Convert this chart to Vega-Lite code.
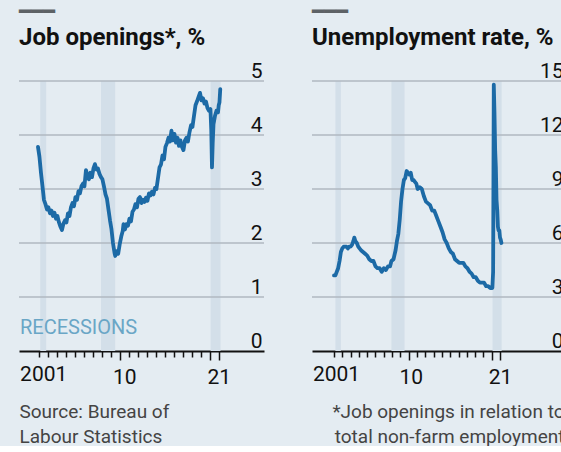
{
  "$schema": "https://vega.github.io/schema/vega-lite/v6.json",
  "background": "#e4ecf2",
  "padding": {"left": 16, "top": 2, "right": 4, "bottom": 0},
  "spacing": 42,
  "datasets": {
    "recessions": [
      {"year": 2001.17, "end": 2001.83},
      {"year": 2007.92, "end": 2009.5},
      {"year": 2020.1, "end": 2021.2}
    ],
    "gridJobs": [
      {"year": 1998.81, "value": 1, "level": 1}, {"year": 2026.03, "value": 1, "level": 1},
      {"year": 1998.81, "value": 2, "level": 2}, {"year": 2026.03, "value": 2, "level": 2},
      {"year": 1998.81, "value": 3, "level": 3}, {"year": 2026.03, "value": 3, "level": 3},
      {"year": 1998.81, "value": 4, "level": 4}, {"year": 2026.03, "value": 4, "level": 4},
      {"year": 1998.81, "value": 5, "level": 5}, {"year": 2026.03, "value": 5, "level": 5}
    ],
    "gridUnemp": [
      {"year": 1998.35, "value": 3, "level": 3}, {"year": 2028.71, "value": 3, "level": 3},
      {"year": 1998.35, "value": 6, "level": 6}, {"year": 2028.71, "value": 6, "level": 6},
      {"year": 1998.35, "value": 9, "level": 9}, {"year": 2028.71, "value": 9, "level": 9},
      {"year": 1998.35, "value": 12, "level": 12}, {"year": 2028.71, "value": 12, "level": 12},
      {"year": 1998.35, "value": 15, "level": 15}, {"year": 2028.71, "value": 15, "level": 15}
    ],
    "notes": [{"year": 1998.92, "value": 0.31, "label": "RECESSIONS"}],
    "jobs": [
      {"year": 2000.92, "value": 3.78}, {"year": 2001.08, "value": 3.6}, {"year": 2001.25, "value": 3.3}, {"year": 2001.42, "value": 3.05},
      {"year": 2001.58, "value": 2.8}, {"year": 2001.75, "value": 2.72}, {"year": 2001.92, "value": 2.62}, {"year": 2002.08, "value": 2.66},
      {"year": 2002.25, "value": 2.55}, {"year": 2002.42, "value": 2.6}, {"year": 2002.58, "value": 2.5}, {"year": 2002.75, "value": 2.56},
      {"year": 2002.92, "value": 2.45}, {"year": 2003.08, "value": 2.5}, {"year": 2003.25, "value": 2.38}, {"year": 2003.42, "value": 2.3},
      {"year": 2003.58, "value": 2.24}, {"year": 2003.75, "value": 2.36}, {"year": 2003.92, "value": 2.42}, {"year": 2004.08, "value": 2.38},
      {"year": 2004.25, "value": 2.55}, {"year": 2004.42, "value": 2.5}, {"year": 2004.58, "value": 2.66}, {"year": 2004.75, "value": 2.74},
      {"year": 2004.92, "value": 2.68}, {"year": 2005.08, "value": 2.85}, {"year": 2005.25, "value": 2.8}, {"year": 2005.42, "value": 2.96},
      {"year": 2005.58, "value": 2.92}, {"year": 2005.75, "value": 3.05}, {"year": 2005.92, "value": 3.1}, {"year": 2006.08, "value": 3.05},
      {"year": 2006.25, "value": 3.35}, {"year": 2006.42, "value": 3.25}, {"year": 2006.58, "value": 3.18}, {"year": 2006.75, "value": 3.3},
      {"year": 2006.92, "value": 3.22}, {"year": 2007.08, "value": 3.38}, {"year": 2007.25, "value": 3.46}, {"year": 2007.42, "value": 3.36},
      {"year": 2007.58, "value": 3.38}, {"year": 2007.75, "value": 3.28}, {"year": 2007.92, "value": 3.22}, {"year": 2008.08, "value": 3.18},
      {"year": 2008.25, "value": 3.05}, {"year": 2008.42, "value": 2.9}, {"year": 2008.58, "value": 2.82}, {"year": 2008.75, "value": 2.62},
      {"year": 2008.92, "value": 2.42}, {"year": 2009.08, "value": 2.26}, {"year": 2009.25, "value": 2.0}, {"year": 2009.42, "value": 1.82},
      {"year": 2009.5, "value": 1.76}, {"year": 2009.67, "value": 1.85}, {"year": 2009.83, "value": 1.8}, {"year": 2010.0, "value": 1.98},
      {"year": 2010.17, "value": 2.12}, {"year": 2010.33, "value": 2.22}, {"year": 2010.42, "value": 2.35}, {"year": 2010.58, "value": 2.25},
      {"year": 2010.75, "value": 2.35}, {"year": 2010.92, "value": 2.32}, {"year": 2011.08, "value": 2.45}, {"year": 2011.25, "value": 2.4},
      {"year": 2011.42, "value": 2.58}, {"year": 2011.58, "value": 2.62}, {"year": 2011.75, "value": 2.72}, {"year": 2011.92, "value": 2.66},
      {"year": 2012.08, "value": 2.82}, {"year": 2012.25, "value": 2.85}, {"year": 2012.42, "value": 2.74}, {"year": 2012.58, "value": 2.8},
      {"year": 2012.75, "value": 2.76}, {"year": 2012.92, "value": 2.84}, {"year": 2013.08, "value": 2.78}, {"year": 2013.25, "value": 2.92},
      {"year": 2013.42, "value": 2.88}, {"year": 2013.58, "value": 2.95}, {"year": 2013.75, "value": 2.9}, {"year": 2013.92, "value": 3.02},
      {"year": 2014.08, "value": 3.0}, {"year": 2014.25, "value": 3.2}, {"year": 2014.42, "value": 3.4}, {"year": 2014.58, "value": 3.45},
      {"year": 2014.75, "value": 3.62}, {"year": 2014.92, "value": 3.55}, {"year": 2015.08, "value": 3.78}, {"year": 2015.25, "value": 3.85},
      {"year": 2015.42, "value": 3.95}, {"year": 2015.58, "value": 3.88}, {"year": 2015.75, "value": 4.08}, {"year": 2015.92, "value": 3.9},
      {"year": 2016.08, "value": 4.02}, {"year": 2016.25, "value": 3.86}, {"year": 2016.42, "value": 3.95}, {"year": 2016.58, "value": 3.8},
      {"year": 2016.75, "value": 3.9}, {"year": 2016.92, "value": 3.78}, {"year": 2017.08, "value": 3.72}, {"year": 2017.25, "value": 3.9},
      {"year": 2017.42, "value": 3.95}, {"year": 2017.58, "value": 3.88}, {"year": 2017.75, "value": 4.05}, {"year": 2017.92, "value": 4.18},
      {"year": 2018.08, "value": 4.15}, {"year": 2018.25, "value": 4.35}, {"year": 2018.42, "value": 4.55}, {"year": 2018.58, "value": 4.62},
      {"year": 2018.75, "value": 4.7}, {"year": 2018.92, "value": 4.78}, {"year": 2019.08, "value": 4.64}, {"year": 2019.25, "value": 4.68},
      {"year": 2019.42, "value": 4.58}, {"year": 2019.58, "value": 4.62}, {"year": 2019.75, "value": 4.5}, {"year": 2019.92, "value": 4.45},
      {"year": 2020.08, "value": 4.48}, {"year": 2020.17, "value": 4.1}, {"year": 2020.25, "value": 3.4}, {"year": 2020.33, "value": 3.85},
      {"year": 2020.42, "value": 4.2}, {"year": 2020.58, "value": 4.35}, {"year": 2020.75, "value": 4.45}, {"year": 2020.92, "value": 4.42},
      {"year": 2021.0, "value": 4.55}, {"year": 2021.08, "value": 4.6}, {"year": 2021.17, "value": 4.85}
    ],
    "unemp": [
      {"year": 2001.0, "value": 4.2}, {"year": 2001.17, "value": 4.2}, {"year": 2001.33, "value": 4.4}, {"year": 2001.5, "value": 4.6},
      {"year": 2001.67, "value": 5.0}, {"year": 2001.83, "value": 5.5}, {"year": 2002.0, "value": 5.7}, {"year": 2002.17, "value": 5.8},
      {"year": 2002.33, "value": 5.8}, {"year": 2002.5, "value": 5.8}, {"year": 2002.67, "value": 5.7}, {"year": 2002.83, "value": 5.8},
      {"year": 2003.0, "value": 5.8}, {"year": 2003.17, "value": 5.9}, {"year": 2003.33, "value": 6.1}, {"year": 2003.45, "value": 6.3},
      {"year": 2003.58, "value": 6.1}, {"year": 2003.75, "value": 6.0}, {"year": 2003.92, "value": 5.8}, {"year": 2004.08, "value": 5.7},
      {"year": 2004.25, "value": 5.6}, {"year": 2004.5, "value": 5.5}, {"year": 2004.75, "value": 5.4}, {"year": 2005.0, "value": 5.3},
      {"year": 2005.25, "value": 5.1}, {"year": 2005.5, "value": 5.0}, {"year": 2005.75, "value": 5.0}, {"year": 2006.0, "value": 4.7},
      {"year": 2006.25, "value": 4.6}, {"year": 2006.5, "value": 4.6}, {"year": 2006.75, "value": 4.4}, {"year": 2007.0, "value": 4.6},
      {"year": 2007.25, "value": 4.5}, {"year": 2007.5, "value": 4.7}, {"year": 2007.75, "value": 4.7}, {"year": 2007.92, "value": 5.0},
      {"year": 2008.17, "value": 5.1}, {"year": 2008.42, "value": 5.6}, {"year": 2008.58, "value": 6.1}, {"year": 2008.75, "value": 6.5},
      {"year": 2008.92, "value": 7.3}, {"year": 2009.08, "value": 8.3}, {"year": 2009.25, "value": 9.0}, {"year": 2009.42, "value": 9.5},
      {"year": 2009.58, "value": 9.6}, {"year": 2009.75, "value": 10.0}, {"year": 2009.92, "value": 9.9}, {"year": 2010.08, "value": 9.8},
      {"year": 2010.25, "value": 9.9}, {"year": 2010.42, "value": 9.5}, {"year": 2010.58, "value": 9.5}, {"year": 2010.75, "value": 9.4},
      {"year": 2010.92, "value": 9.3}, {"year": 2011.08, "value": 9.0}, {"year": 2011.33, "value": 9.1}, {"year": 2011.58, "value": 9.0},
      {"year": 2011.83, "value": 8.6}, {"year": 2012.08, "value": 8.3}, {"year": 2012.33, "value": 8.2}, {"year": 2012.58, "value": 8.1},
      {"year": 2012.83, "value": 7.8}, {"year": 2013.08, "value": 7.8}, {"year": 2013.33, "value": 7.5}, {"year": 2013.58, "value": 7.2},
      {"year": 2013.83, "value": 6.9}, {"year": 2014.08, "value": 6.6}, {"year": 2014.33, "value": 6.2}, {"year": 2014.58, "value": 6.0},
      {"year": 2014.83, "value": 5.7}, {"year": 2015.08, "value": 5.5}, {"year": 2015.33, "value": 5.4}, {"year": 2015.58, "value": 5.1},
      {"year": 2015.83, "value": 5.0}, {"year": 2016.08, "value": 4.9}, {"year": 2016.33, "value": 4.9}, {"year": 2016.58, "value": 4.9},
      {"year": 2016.83, "value": 4.7}, {"year": 2017.08, "value": 4.6}, {"year": 2017.33, "value": 4.4}, {"year": 2017.58, "value": 4.3},
      {"year": 2017.83, "value": 4.1}, {"year": 2018.08, "value": 4.1}, {"year": 2018.33, "value": 3.9}, {"year": 2018.58, "value": 3.8},
      {"year": 2018.83, "value": 3.8}, {"year": 2019.08, "value": 3.8}, {"year": 2019.33, "value": 3.6}, {"year": 2019.58, "value": 3.6},
      {"year": 2019.83, "value": 3.5}, {"year": 2020.0, "value": 3.5}, {"year": 2020.08, "value": 3.5}, {"year": 2020.17, "value": 4.4},
      {"year": 2020.25, "value": 14.8}, {"year": 2020.33, "value": 13.3}, {"year": 2020.42, "value": 11.1}, {"year": 2020.5, "value": 10.2},
      {"year": 2020.58, "value": 8.4}, {"year": 2020.67, "value": 7.8}, {"year": 2020.75, "value": 6.9}, {"year": 2020.83, "value": 6.7},
      {"year": 2020.92, "value": 6.7}, {"year": 2021.0, "value": 6.3}, {"year": 2021.08, "value": 6.2}, {"year": 2021.17, "value": 6.0}
    ]
  },
  "hconcat": [
    {
      "width": 245,
      "height": 270,
      "title": {
        "text": "━━━",
        "subtitle": "Job openings*, %",
        "anchor": "start",
        "frame": "group",
        "font": "DejaVu Sans",
        "fontSize": 20,
        "fontWeight": "normal",
        "color": "#5d6266",
        "subtitleFont": "Roboto",
        "subtitleFontSize": 24,
        "subtitleFontWeight": "bold",
        "subtitleColor": "#111111",
        "subtitlePadding": 4,
        "offset": 10
      },
      "encoding": {
        "x": {
          "field": "year",
          "type": "quantitative",
          "scale": {"domain": [1998.81, 2026.03], "nice": false, "zero": false},
          "axis": {
            "values": [2001, 2002, 2003, 2004, 2005, 2006, 2007, 2008, 2009, 2010, 2011, 2012, 2013, 2014, 2015, 2016, 2017, 2018, 2019, 2020, 2021],
            "labelExpr": "datum.value == 2001 ? '2001' : datum.value == 2010 ? '10' : datum.value == 2021 ? '21' : ''",
            "labelFlush": false,
            "labelOverlap": false,
            "labelFont": "Roboto",
            "labelFontSize": 21,
            "labelColor": "#111111",
            "labelPadding": 6,
            "labelOffset": {"condition": {"test": "datum.value == 2021", "value": 0}, "value": 4.5},
            "grid": false,
            "domainColor": "#111111",
            "domainWidth": 2,
            "tickColor": "#111111",
            "tickWidth": 1.5,
            "tickSize": {"condition": {"test": "datum.value == 2010 || datum.value >= 2020", "value": 9}, "value": 6},
            "title": ["Source: Bureau of", "Labour Statistics"],
            "titleFont": "Roboto",
            "titleFontSize": 19,
            "titleFontWeight": "normal",
            "titleColor": "#444444",
            "titleAnchor": "start",
            "titleAlign": "left",
            "titleBaseline": "top",
            "titleLineHeight": 25,
            "titlePadding": 15
          }
        },
        "y": {
          "field": "value",
          "type": "quantitative",
          "scale": {"domain": [0, 5], "nice": false},
          "axis": {
            "orient": "right",
            "values": [0, 1, 2, 3, 4, 5],
            "grid": false,
            "domain": false,
            "ticks": false,
            "labelAlign": "right",
            "labelBaseline": "alphabetic",
            "labelPadding": -2,
            "labelOffset": -4,
            "labelFont": "Roboto",
            "labelFontSize": 21,
            "labelColor": "#111111",
            "title": null
          }
        }
      },
      "layer": [
        {
          "data": {"name": "recessions"},
          "mark": {"type": "rect", "color": "#d3dfe9"},
          "encoding": {"x2": {"field": "end"}, "y": null}
        },
        {
          "data": {"name": "gridJobs"},
          "mark": {"type": "line", "color": "#b0b9c1", "strokeWidth": 1.4},
          "encoding": {"detail": {"field": "level", "type": "nominal"}}
        },
        {
          "data": {"name": "notes"},
          "mark": {"type": "text", "align": "left", "baseline": "alphabetic", "font": "Roboto", "fontSize": 20, "color": "#6aa6c6"},
          "encoding": {"text": {"field": "label"}}
        },
        {
          "data": {"name": "jobs"},
          "mark": {"type": "line", "color": "#1c6aa6", "strokeWidth": 3.8, "strokeJoin": "round", "strokeCap": "round"}
        }
      ]
    },
    {
      "width": 252,
      "height": 270,
      "title": {
        "text": "━━━",
        "subtitle": "Unemployment rate, %",
        "anchor": "start",
        "frame": "group",
        "font": "DejaVu Sans",
        "fontSize": 20,
        "fontWeight": "normal",
        "color": "#5d6266",
        "subtitleFont": "Roboto",
        "subtitleFontSize": 24,
        "subtitleFontWeight": "bold",
        "subtitleColor": "#111111",
        "subtitlePadding": 4,
        "offset": 10
      },
      "encoding": {
        "x": {
          "field": "year",
          "type": "quantitative",
          "scale": {"domain": [1998.35, 2028.71], "nice": false, "zero": false},
          "axis": {
            "values": [2001, 2002, 2003, 2004, 2005, 2006, 2007, 2008, 2009, 2010, 2011, 2012, 2013, 2014, 2015, 2016, 2017, 2018, 2019, 2020, 2021],
            "labelExpr": "datum.value == 2001 ? '2001' : datum.value == 2010 ? '10' : datum.value == 2021 ? '21' : ''",
            "labelFlush": false,
            "labelOverlap": false,
            "labelFont": "Roboto",
            "labelFontSize": 21,
            "labelColor": "#111111",
            "labelPadding": 6,
            "labelOffset": {"condition": {"test": "datum.value == 2021", "value": 0}, "value": 2},
            "grid": false,
            "domainColor": "#111111",
            "domainWidth": 2,
            "tickColor": "#111111",
            "tickWidth": 1.5,
            "tickSize": {"condition": {"test": "datum.value == 2010 || datum.value >= 2020", "value": 9}, "value": 6},
            "title": ["*Job openings in relation to", "total non-farm employment"],
            "titleFont": "Roboto",
            "titleFontSize": 19,
            "titleFontWeight": "normal",
            "titleColor": "#444444",
            "titleAnchor": "end",
            "titleAlign": "right",
            "titleBaseline": "top",
            "titleLineHeight": 25,
            "titlePadding": 15
          }
        },
        "y": {
          "field": "value",
          "type": "quantitative",
          "scale": {"domain": [0, 15], "nice": false},
          "axis": {
            "orient": "right",
            "values": [0, 3, 6, 9, 12, 15],
            "grid": false,
            "domain": false,
            "ticks": false,
            "labelAlign": "right",
            "labelBaseline": "alphabetic",
            "labelPadding": -1,
            "labelOffset": -4,
            "labelFont": "Roboto",
            "labelFontSize": 21,
            "labelColor": "#111111",
            "title": null
          }
        }
      },
      "layer": [
        {
          "data": {"name": "recessions"},
          "mark": {"type": "rect", "color": "#d3dfe9"},
          "encoding": {"x2": {"field": "end"}, "y": null}
        },
        {
          "data": {"name": "gridUnemp"},
          "mark": {"type": "line", "color": "#b0b9c1", "strokeWidth": 1.4},
          "encoding": {"detail": {"field": "level", "type": "nominal"}}
        },
        {
          "data": {"name": "unemp"},
          "mark": {"type": "line", "color": "#1c6aa6", "strokeWidth": 3.8, "strokeJoin": "round", "strokeCap": "round"}
        }
      ]
    }
  ],
  "config": {
    "view": {"stroke": null},
    "font": "Roboto"
  }
}
